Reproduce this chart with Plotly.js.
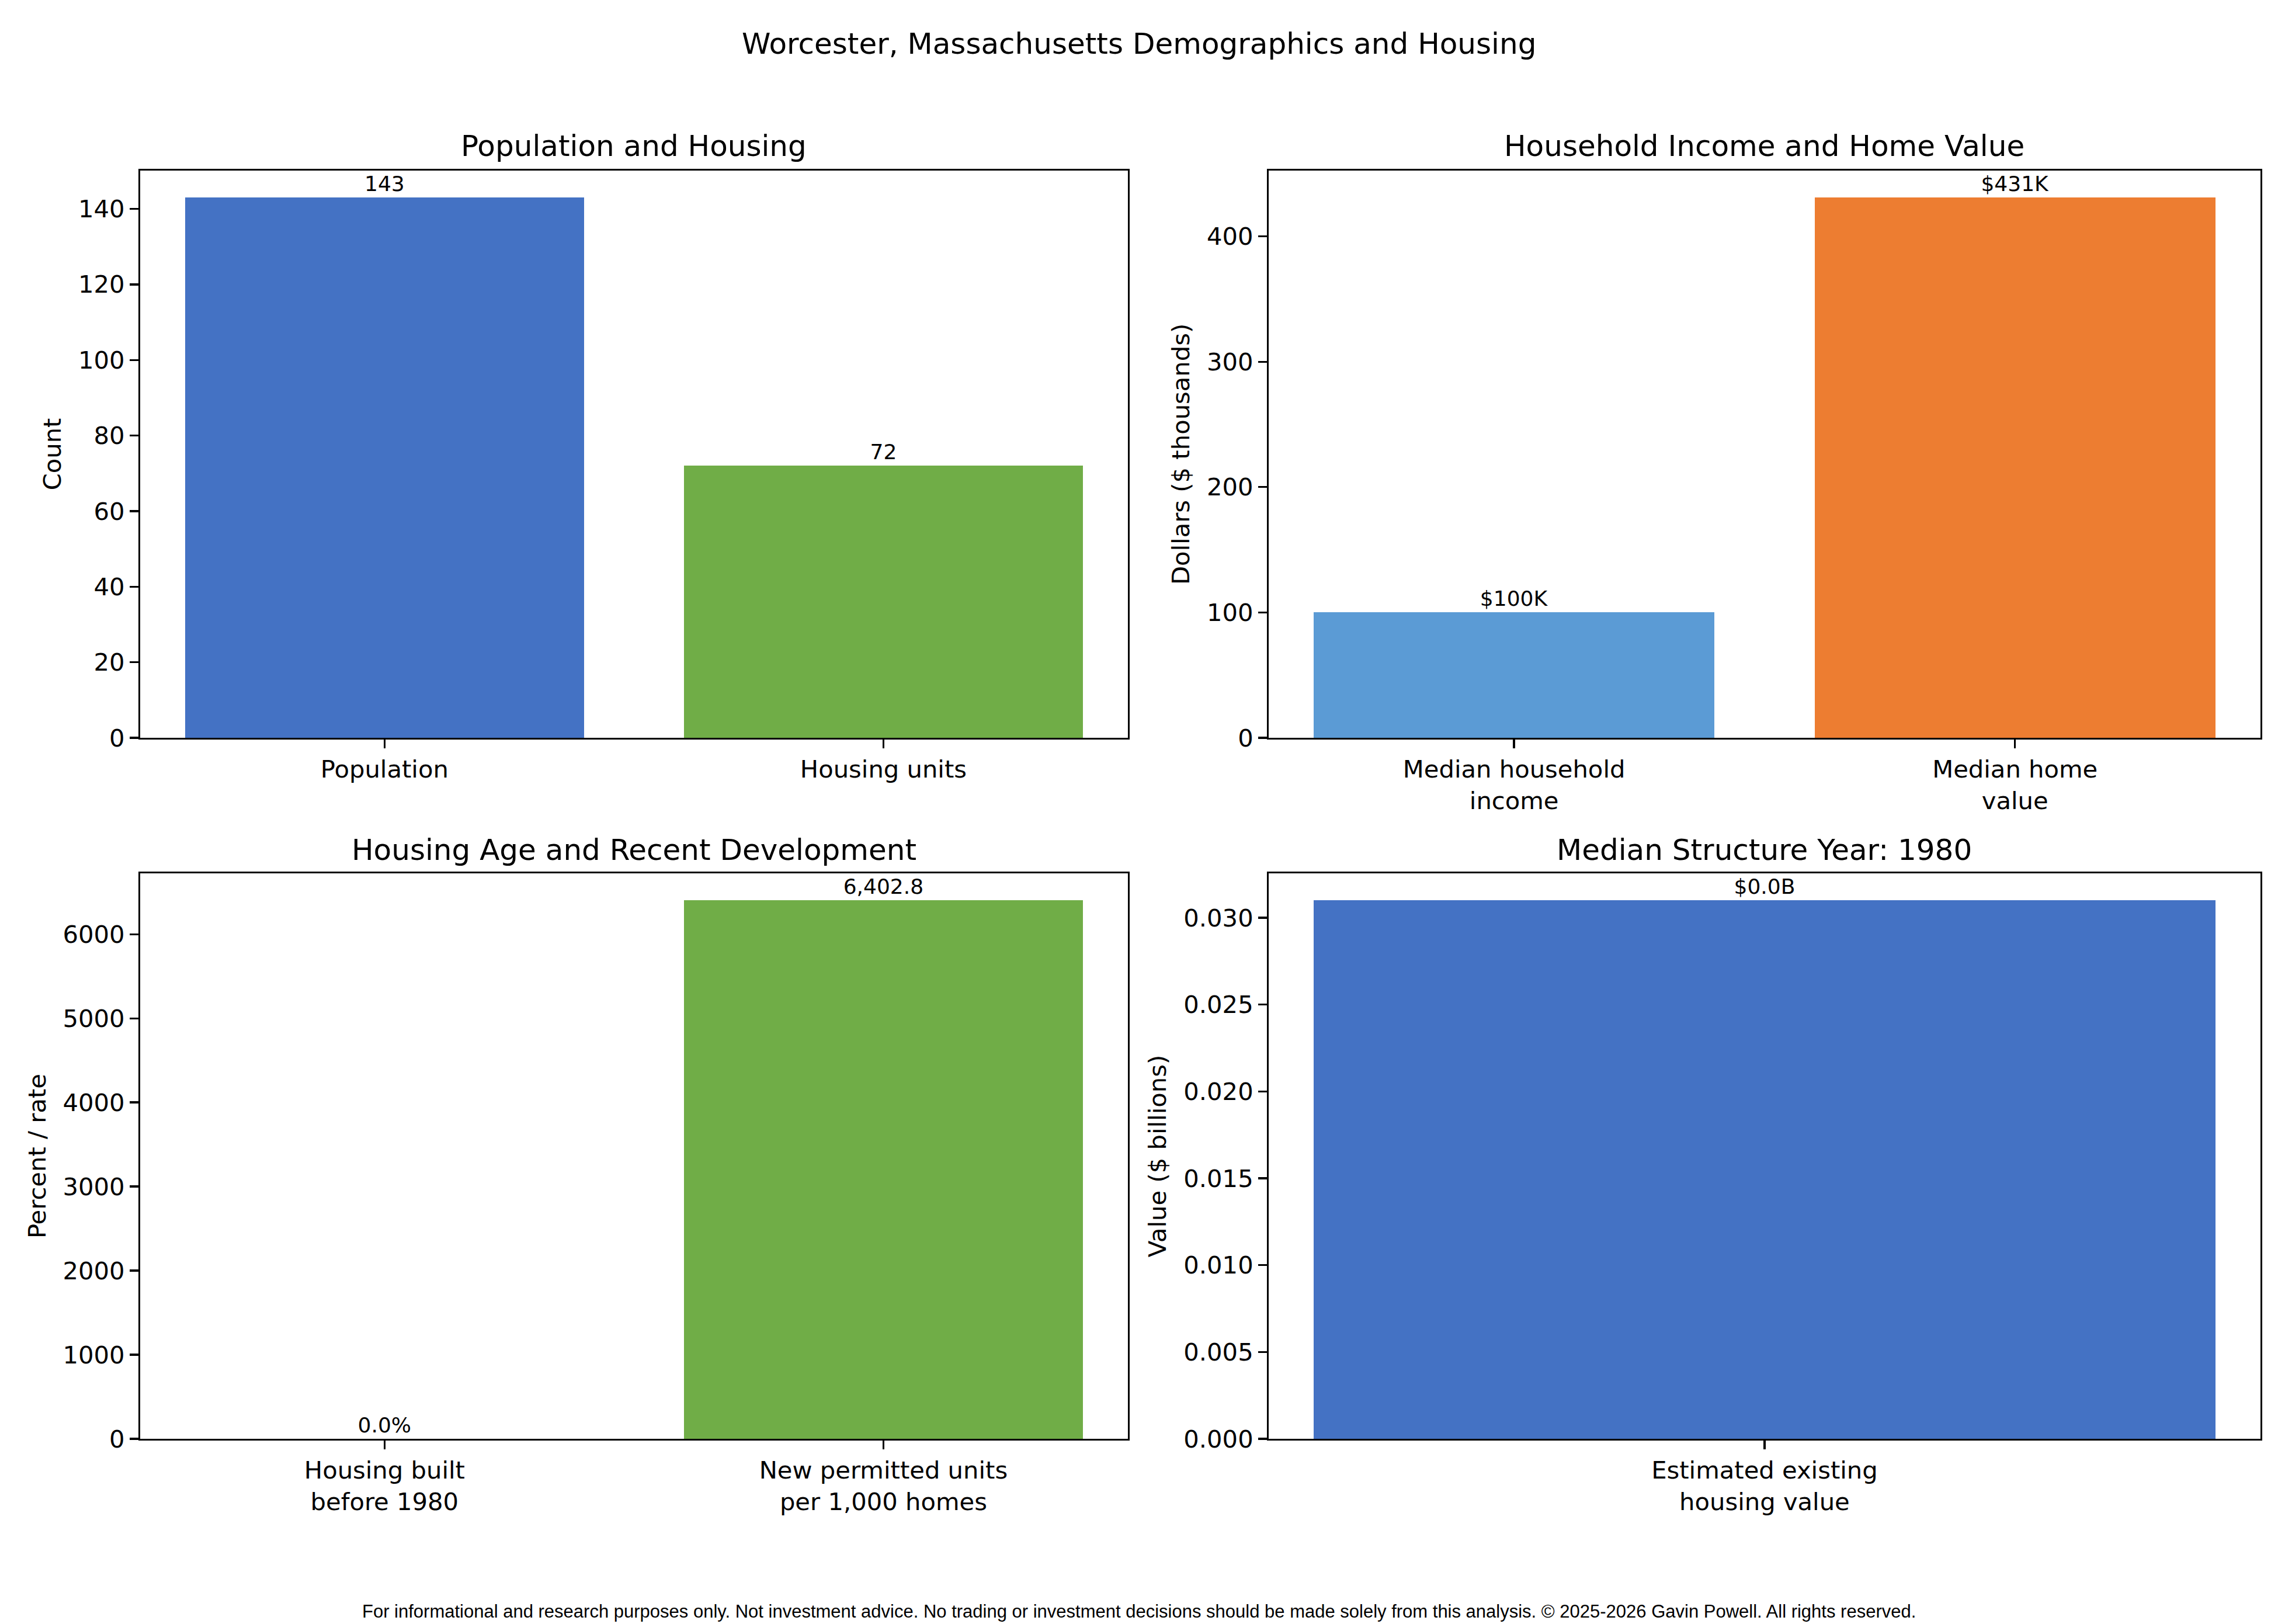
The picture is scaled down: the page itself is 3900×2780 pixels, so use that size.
<!DOCTYPE html>
<html>
<head>
<meta charset="utf-8">
<script src="https://cdn.plot.ly/plotly-3.0.1.min.js"></script>
<style>
  html, body { margin: 0; padding: 0; background: #fff; }
  #plot { width: 3900px; height: 2780px; }
</style>
</head>
<body>
<div id="plot"></div>
<script>
// values
const popCats = ['Population', 'Housing units'];
const popVals = [143, 72];
const popLabels = ['143', '72'];

const incomeCats = ['Median household<br>income', 'Median home<br>value'];
const incomeVals = [100, 431];
const incomeLabels = ['$100K', '$431K'];

const ageCats = ['Housing built<br>before 1980', 'New permitted units<br>per 1,000 homes'];
const ageVals = [0, 6402.8];
const ageLabels = ['0.0%', '6,402.8'];

const valueCats = ['Estimated existing<br>housing value'];
const valueVals = [0.031];
const valueLabels = ['$0.0B'];

const FONT = 'DejaVu Sans, sans-serif';

function barTrace(x, y, labels, colors, xa, ya) {
  return {
    type: 'bar',
    x: x,
    y: y,
    text: labels,
    textposition: 'outside',
    textfont: { family: FONT, size: 36, color: '#000' },
    cliponaxis: false,
    width: 0.8,
    marker: { color: colors },
    xaxis: xa,
    yaxis: ya,
    hoverinfo: 'skip',
  };
}

const traces = [
  barTrace(popCats, popVals, popLabels, ['#4472C4', '#70AD47'], 'x', 'y'),
  barTrace(incomeCats, incomeVals, incomeLabels, ['#5B9BD5', '#ED7D31'], 'x2', 'y2'),
  barTrace(ageCats, ageVals, ageLabels, ['#4472C4', '#70AD47'], 'x3', 'y3'),
  barTrace(valueCats, valueVals, valueLabels, ['#4472C4'], 'x4', 'y4'),
];

const leftDom = [0.0615, 0.4951];
const rightDom = [0.5569, 0.9923];
const topDom = [0.5457, 0.8950];
const botDom = [0.1140, 0.4622];

function xax(dom, anchor, n) {
  return {
    domain: dom,
    anchor: anchor,
    type: 'category',
    range: n === 1 ? [-0.44, 0.44] : [-0.49, 1.49],
    showline: true,
    mirror: true,
    linecolor: '#000',
    linewidth: 3.3,
    ticks: 'outside',
    ticklen: 14.6,
    tickwidth: 3.3,
    tickcolor: '#000',
    showgrid: false,
    zeroline: false,
    tickfont: { family: FONT, size: 41.7, color: '#000' },
    fixedrange: true,
  };
}

function yax(dom, anchor, range, dtick, title, fmt) {
  return {
    domain: dom,
    anchor: anchor,
    range: range,
    dtick: dtick,
    tick0: 0,
    tickformat: fmt,
    showline: true,
    mirror: true,
    linecolor: '#000',
    linewidth: 3.3,
    ticks: 'outside',
    ticklen: 14.6,
    tickwidth: 3.3,
    tickcolor: '#000',
    showgrid: false,
    zeroline: false,
    tickfont: { family: FONT, size: 41.7, color: '#000' },
    title: { text: title, font: { family: FONT, size: 41.7, color: '#000' }, standoff: 17 },
    fixedrange: true,
  };
}

function title(text, x, y, size, family) {
  return {
    text: text,
    xref: 'paper',
    yref: 'paper',
    x: x,
    y: y,
    xanchor: 'center',
    yanchor: 'middle',
    showarrow: false,
    font: { family: family || FONT, size: size, color: '#000' },
  };
}

const layout = {
  width: 3900,
  height: 2780,
  margin: { l: 0, r: 0, t: 0, b: 0 },
  paper_bgcolor: '#fff',
  plot_bgcolor: '#fff',
  showlegend: false,
  bargap: 0,
  xaxis: xax(leftDom, 'y', 2),
  yaxis: yax(topDom, 'x', [0, 150.15], 20, 'Count'),
  xaxis2: xax(rightDom, 'y2', 2),
  yaxis2: yax(topDom, 'x2', [0, 452.55], 100, 'Dollars ($ thousands)'),
  xaxis3: xax(leftDom, 'y3', 2),
  yaxis3: yax(botDom, 'x3', [0, 6722.94], 1000, 'Percent / rate'),
  xaxis4: xax(rightDom, 'y4', 1),
  yaxis4: yax(botDom, 'x4', [0, 0.03255], 0.005, 'Value ($ billions)', '.3f'),
  annotations: [
    title('Worcester, Massachusetts Demographics and Housing', 0.5, 1 - 75 / 2780, 50),
    title('Population and Housing', (leftDom[0] + leftDom[1]) / 2, 1 - 250 / 2780, 50),
    title('Household Income and Home Value', (rightDom[0] + rightDom[1]) / 2, 1 - 250 / 2780, 50),
    title('Housing Age and Recent Development', (leftDom[0] + leftDom[1]) / 2, 1 - 1455 / 2780, 50),
    title('Median Structure Year: 1980', (rightDom[0] + rightDom[1]) / 2, 1 - 1455 / 2780, 50),
    title('For informational and research purposes only. Not investment advice. No trading or investment decisions should be made solely from this analysis. © 2025-2026 Gavin Powell. All rights reserved.',
      0.5, 1 - 2758 / 2780, 31, 'Liberation Sans, Arial, sans-serif'),
  ],
};

const config = {
  displayModeBar: false,
  staticPlot: true,
};

Plotly.newPlot('plot', traces, layout, config);
</script>
</body>
</html>
